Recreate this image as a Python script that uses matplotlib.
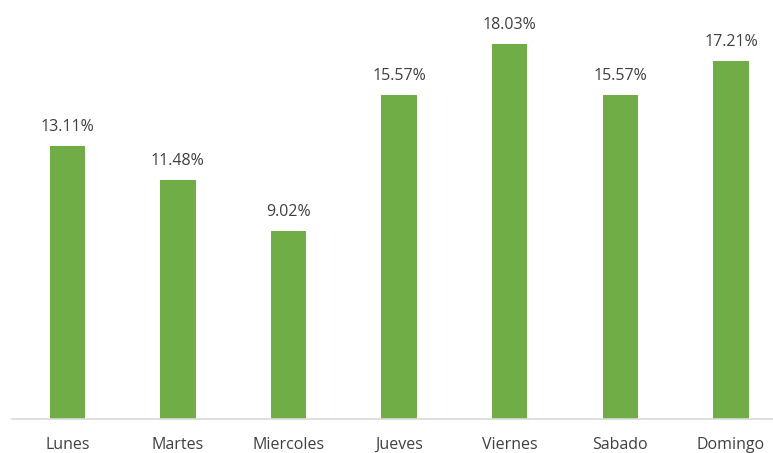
import numpy as np
import matplotlib
matplotlib.use('Agg')
import matplotlib.pyplot as plt

# Porcentaje por dia de la semana
dias = ['Lunes', 'Martes', 'Miercoles', 'Jueves', 'Viernes', 'Sabado', 'Domingo']
porcentajes = [13.11, 11.48, 9.02, 15.57, 18.03, 15.57, 17.21]

plt.rcParams['font.family'] = ['Open Sans', 'DejaVu Sans']

fig = plt.figure(figsize=(7.73, 4.53), dpi=100)
ax = fig.add_axes([12 / 773, 34 / 453, 761 / 773, 416 / 453])

x = np.arange(len(dias))
ax.bar(x, porcentajes, width=0.32, color='#70AD47', zorder=2)

for xi, v in zip(x, porcentajes):
    ax.annotate(f'{v:.2f}%', (xi, v), xytext=(0, 8), textcoords='offset points',
                ha='center', va='bottom', fontsize=11.5, color='#404040')

ax.set_xlim(-0.5, 6.38)
ax.set_ylim(0, 20)
ax.set_xticks(x)
ax.set_xticklabels(dias, fontsize=11.5, color='#404040')
ax.tick_params(axis='x', length=0, pad=13)
ax.set_yticks([])
for s in ['top', 'right', 'left']:
    ax.spines[s].set_visible(False)
ax.spines['bottom'].set_color('#D9D9D9')
ax.spines['bottom'].set_linewidth(1.2)

plt.savefig('out.png', dpi=100)
